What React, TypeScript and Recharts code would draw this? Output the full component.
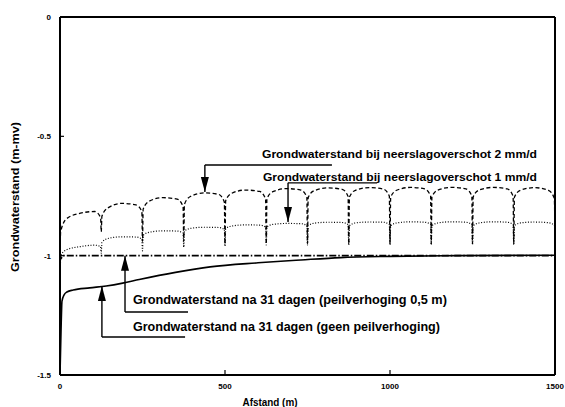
import { LineChart, Line, XAxis, YAxis, ReferenceLine, ReferenceDot } from "recharts";

// afstand (m) for the two scalloped curves, drains every 125 m
const drainDistance = [
  0, 2, 20, 62, 105, 123, 125,
  127, 145, 187, 230, 248, 250,
  252, 270, 312, 355, 373, 375,
  377, 395, 437, 480, 498, 500,
  502, 520, 562, 605, 623, 625,
  627, 645, 687, 730, 748, 750,
  752, 770, 812, 855, 873, 875,
  877, 895, 937, 980, 998, 1000,
  1002, 1020, 1062, 1105, 1123, 1125,
  1127, 1145, 1187, 1230, 1248, 1250,
  1252, 1270, 1312, 1355, 1373, 1375,
  1377, 1395, 1437, 1480, 1498, 1500,
];

// neerslagoverschot 2 mm/d
const surplus2 = [
  -1.0, -0.9, -0.845, -0.822, -0.815, -0.84, -0.9,
  -0.835, -0.8, -0.781, -0.787, -0.815, -0.94,
  -0.805, -0.772, -0.757, -0.763, -0.795, -0.94,
  -0.785, -0.752, -0.737, -0.743, -0.775, -0.95,
  -0.77, -0.739, -0.725, -0.731, -0.762, -0.95,
  -0.762, -0.732, -0.719, -0.725, -0.755, -0.95,
  -0.757, -0.728, -0.716, -0.722, -0.752, -0.95,
  -0.755, -0.726, -0.715, -0.721, -0.751, -0.95,
  -0.755, -0.726, -0.714, -0.72, -0.75, -0.95,
  -0.754, -0.725, -0.714, -0.72, -0.75, -0.95,
  -0.754, -0.725, -0.714, -0.72, -0.751, -0.95,
  -0.755, -0.726, -0.715, -0.726, -0.76, -0.95,
];

// neerslagoverschot 1 mm/d
const surplus1 = [
  -1.19, -1.0, -0.975, -0.962, -0.956, -0.962, -0.99,
  -0.945, -0.928, -0.921, -0.922, -0.93, -0.98,
  -0.915, -0.902, -0.896, -0.897, -0.905, -0.965,
  -0.897, -0.886, -0.881, -0.882, -0.89, -0.96,
  -0.887, -0.876, -0.871, -0.872, -0.88, -0.955,
  -0.88, -0.869, -0.865, -0.866, -0.874, -0.955,
  -0.876, -0.864, -0.86, -0.861, -0.87, -0.955,
  -0.875, -0.863, -0.859, -0.86, -0.869, -0.955,
  -0.875, -0.863, -0.858, -0.86, -0.869, -0.955,
  -0.875, -0.863, -0.858, -0.86, -0.869, -0.955,
  -0.875, -0.863, -0.858, -0.86, -0.869, -0.955,
  -0.875, -0.863, -0.859, -0.862, -0.872, -0.955,
];

// na 31 dagen, peilverhoging 0,5 m
const raisedDistance = [0, 3, 10, 1500];
const raised = [-0.99, -1.012, -1.0, -1.0];

// na 31 dagen, geen peilverhoging
const plainDistance = [0, 3, 6, 12, 21, 40, 90, 140, 190, 240, 350, 455, 600, 730, 850, 1000, 1200, 1500];
const plain = [-1.5, -1.32, -1.19, -1.165, -1.152, -1.144, -1.135, -1.127, -1.115, -1.1, -1.07, -1.047, -1.03, -1.018, -1.008, -1.003, -1.0, -0.998];

const xTicks = [0, 500, 1000, 1500];
const yTicks = [-1.5, -1, -0.5, 0];

const labels = [
  "Grondwaterstand bij neerslagoverschot 2 mm/d",
  "Grondwaterstand bij neerslagoverschot 1 mm/d",
  "Grondwaterstand na 31 dagen (peilverhoging 0,5 m)",
  "Grondwaterstand na 31 dagen (geen peilverhoging)",
];

// annotation placement, in data units
const notes = [
  { tx: 612, ty: -0.589, len: 275, fs: 11.5, ax: 439, tip: -0.733, elbow: -0.62, tail: 824, up: false },
  { tx: 615, ty: -0.687, len: 274, fs: 11.5, ax: 691, tip: -0.859, elbow: -0.695, tail: 961, up: false },
  { tx: 221, ty: -1.202, len: 314, fs: 12, ax: 197, tip: -1.0, elbow: -1.236, tail: 388, up: true },
  { tx: 221, ty: -1.316, len: 307, fs: 12, ax: 127, tip: -1.127, elbow: -1.341, tail: 379, up: true },
];

const zip = (xs: number[], ys: number[]) => xs.map((d, i) => ({ d, v: ys[i] }));

const font = "'Liberation Sans', Arial, sans-serif";
const tickStyle = { fill: "#000", fontSize: 8, fontWeight: 700, fontFamily: font };

export default function App() {
  return (
    <div style={{ position: "absolute", left: 0, top: 0, width: 565, height: 407, background: "#fff" }}>
      <LineChart width={565} height={407} margin={{ top: 17, right: 10, bottom: 0, left: 0 }}>
        <XAxis
          dataKey="d"
          type="number"
          domain={[0, 1500]}
          ticks={xTicks}
          height={32}
          tick={tickStyle}
          tickSize={-5}
          tickMargin={13}
          axisLine={{ stroke: "#000", strokeWidth: 2 }}
          tickLine={{ stroke: "#000", strokeWidth: 1.2 }}
          allowDataOverflow
        />
        <YAxis
          type="number"
          domain={[-1.5, 0]}
          ticks={yTicks}
          width={60}
          tick={tickStyle}
          tickSize={-4}
          tickMargin={13}
          tickFormatter={(v: number) => String(v)}
          axisLine={{ stroke: "#000", strokeWidth: 2 }}
          tickLine={{ stroke: "#000", strokeWidth: 1.2 }}
          allowDataOverflow
        />
        <ReferenceLine y={0} stroke="#000" strokeWidth={2} />
        <ReferenceLine x={1500} stroke="#000" strokeWidth={2} />

        <Line data={zip(plainDistance, plain)} dataKey="v" type="monotone" stroke="#000" strokeWidth={1.6} dot={false} isAnimationActive={false} />
        <Line data={zip(raisedDistance, raised)} dataKey="v" type="linear" stroke="#000" strokeWidth={1.7} strokeDasharray="7 2 1.5 2" dot={false} isAnimationActive={false} />
        <Line data={zip(drainDistance, surplus1)} dataKey="v" type="monotone" stroke="#000" strokeWidth={1.2} strokeDasharray="1 1.7" dot={false} isAnimationActive={false} />
        <Line data={zip(drainDistance, surplus2)} dataKey="v" type="monotone" stroke="#000" strokeWidth={1.3} strokeDasharray="4 2.5" dot={false} isAnimationActive={false} />

        {notes.map((n, i) => (
          <ReferenceLine key={`v${i}`} segment={[{ x: n.ax, y: n.tip }, { x: n.ax, y: n.elbow }]} stroke="#000" strokeWidth={1.4} />
        ))}
        {notes.map((n, i) => (
          <ReferenceLine key={`h${i}`} segment={[{ x: n.ax, y: n.elbow }, { x: n.tail, y: n.elbow }]} stroke="#000" strokeWidth={1.4} />
        ))}
        {notes.map((n, i) => (
          <ReferenceDot
            key={`a${i}`}
            x={n.ax}
            y={n.tip}
            r={1}
            shape={(p: any) => (
              <path d={`M${p.cx},${p.cy} l-4,${n.up ? 15 : -15} l8,0 z`} fill="#000" />
            )}
          />
        ))}
        {notes.map((n, i) => (
          <ReferenceDot
            key={`t${i}`}
            x={n.tx}
            y={n.ty}
            r={1}
            shape={(p: any) => (
              <text
                x={p.cx}
                y={p.cy}
                textLength={n.len}
                lengthAdjust="spacingAndGlyphs"
                fontFamily={font}
                fontWeight={700}
                fontSize={n.fs}
                fill="#000"
              >
                {labels[i]}
              </text>
            )}
          />
        ))}
      </LineChart>
      <svg width={565} height={407} style={{ position: "absolute", left: 0, top: 0, pointerEvents: "none" }}>
        <text
          x={15}
          y={197}
          transform="rotate(-90 15 197)"
          textAnchor="middle"
          dominantBaseline="central"
          textLength={150}
          lengthAdjust="spacingAndGlyphs"
          fontFamily={font}
          fontWeight={700}
          fontSize={11}
        >
          Grondwaterstand (m-mv)
        </text>
        <text
          x={270}
          y={402}
          textAnchor="middle"
          dominantBaseline="central"
          textLength={55}
          lengthAdjust="spacingAndGlyphs"
          fontFamily={font}
          fontWeight={700}
          fontSize={10}
        >
          Afstand (m)
        </text>
      </svg>
    </div>
  );
}
